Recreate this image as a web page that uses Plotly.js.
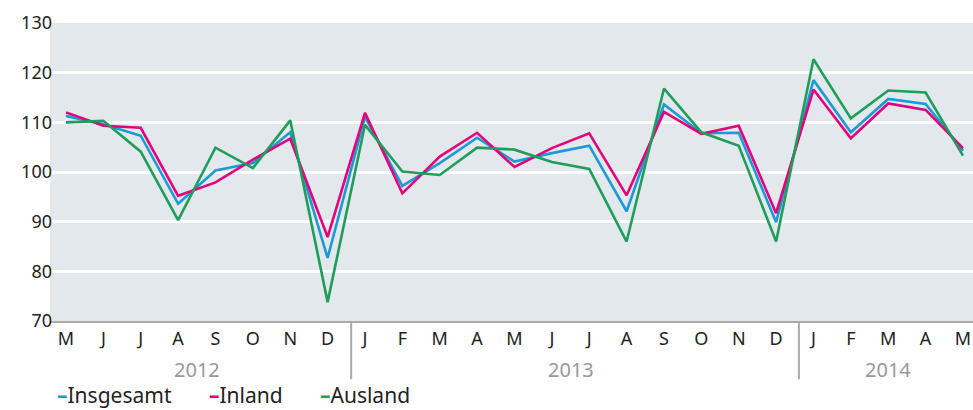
<!DOCTYPE html>
<html>
<head>
<meta charset="utf-8">
<script src="https://cdn.plot.ly/plotly-3.0.1.min.js"></script>
<style>html,body{margin:0;padding:0;background:#fff;}#chart{width:973px;height:410px;}</style>
</head>
<body>
<div id="chart"></div>
<script>
var months = ["M","J","J","A","S","O","N","D","J","F","M","A","M","J","J","A","S","O","N","D","J","F","M","A","M"];
var years = ["2012","2013","2014"];
var insgesamt = [111.3,109.6,107.3,93.6,100.3,101.8,108.0,82.7,111.1,97.2,101.8,106.9,102.1,103.8,105.3,92.1,113.6,107.8,107.9,89.9,118.5,108.0,114.7,113.7,104.3];
var inland    = [112.0,109.3,108.9,95.2,97.9,102.5,106.7,86.9,111.9,95.7,103.1,107.9,101.0,104.8,107.8,95.3,112.1,107.7,109.3,91.7,116.6,106.8,113.8,112.5,104.8];
var ausland   = [110.0,110.3,104.1,90.3,104.9,100.8,110.4,73.8,109.5,100.1,99.4,104.9,104.5,102.0,100.6,86.0,116.8,108.0,105.3,86.0,122.7,110.8,116.4,116.0,103.3];
var seriesNames = ["Insgesamt","Inland","Ausland"];
var colors = ["#1b9ad6","#e3007c","#1e9e5a"];

var idx = months.map(function(_, i){ return i; });
var data = [insgesamt, inland, ausland].map(function(v, k){
  return {x: idx, y: v, type: "scatter", mode: "lines", name: seriesNames[k],
          line: {color: colors[k], width: 2.6}, showlegend: false, hoverinfo: "skip"};
});

var font = "Noto Sans, sans-serif";
var annotations = [];
var yearPos = [3.5, 13.5, 22];
years.forEach(function(y, i){
  annotations.push({x: yearPos[i], y: -0.162, xref: "x", yref: "paper", text: y, showarrow: false,
    font: {family: font, size: 20, color: "#999"}, xanchor: "center", yanchor: "middle"});
});
var legX = [55, 207, 318];
seriesNames.forEach(function(n, k){
  annotations.push({x: (legX[k] - 50) / 923, y: -0.249, xref: "paper", yref: "paper",
    text: "<b style='color:" + colors[k] + "'>\u2013</b>" + n, showarrow: false,
    font: {family: font, size: 21, color: "#222"}, xanchor: "left", yanchor: "middle"});
});

var shapes = [7.63, 19.61].map(function(xv){
  return {type: "line", xref: "x", yref: "paper", x0: xv, x1: xv, y0: 0, y1: -0.195,
          line: {color: "#aaa", width: 2}};
});

var layout = {
  width: 973, height: 410,
  margin: {l: 50, r: 0, t: 23, b: 89},
  paper_bgcolor: "#fff", plot_bgcolor: "#e3e8ec",
  font: {family: font, color: "#222"},
  xaxis: {range: [-0.428, 24.268], tickvals: idx, ticktext: months, showgrid: false, zeroline: false,
          showline: true, linecolor: "#aaa", linewidth: 2, ticks: "", ticklen: 0, tickfont: {size: 18, color: "#222"}, fixedrange: true},
  yaxis: {range: [70, 130], dtick: 10, tick0: 70, showgrid: true, gridcolor: "#fff", gridwidth: 3, zeroline: false,
          showline: false, ticks: "", ticklen: 0, ticklabelstandoff: -3, tickfont: {size: 18, color: "#222"}, fixedrange: true},
  annotations: annotations,
  shapes: shapes,
  showlegend: false
};
Plotly.newPlot("chart", data, layout, {displayModeBar: false, staticPlot: true});
</script>
</body>
</html>
